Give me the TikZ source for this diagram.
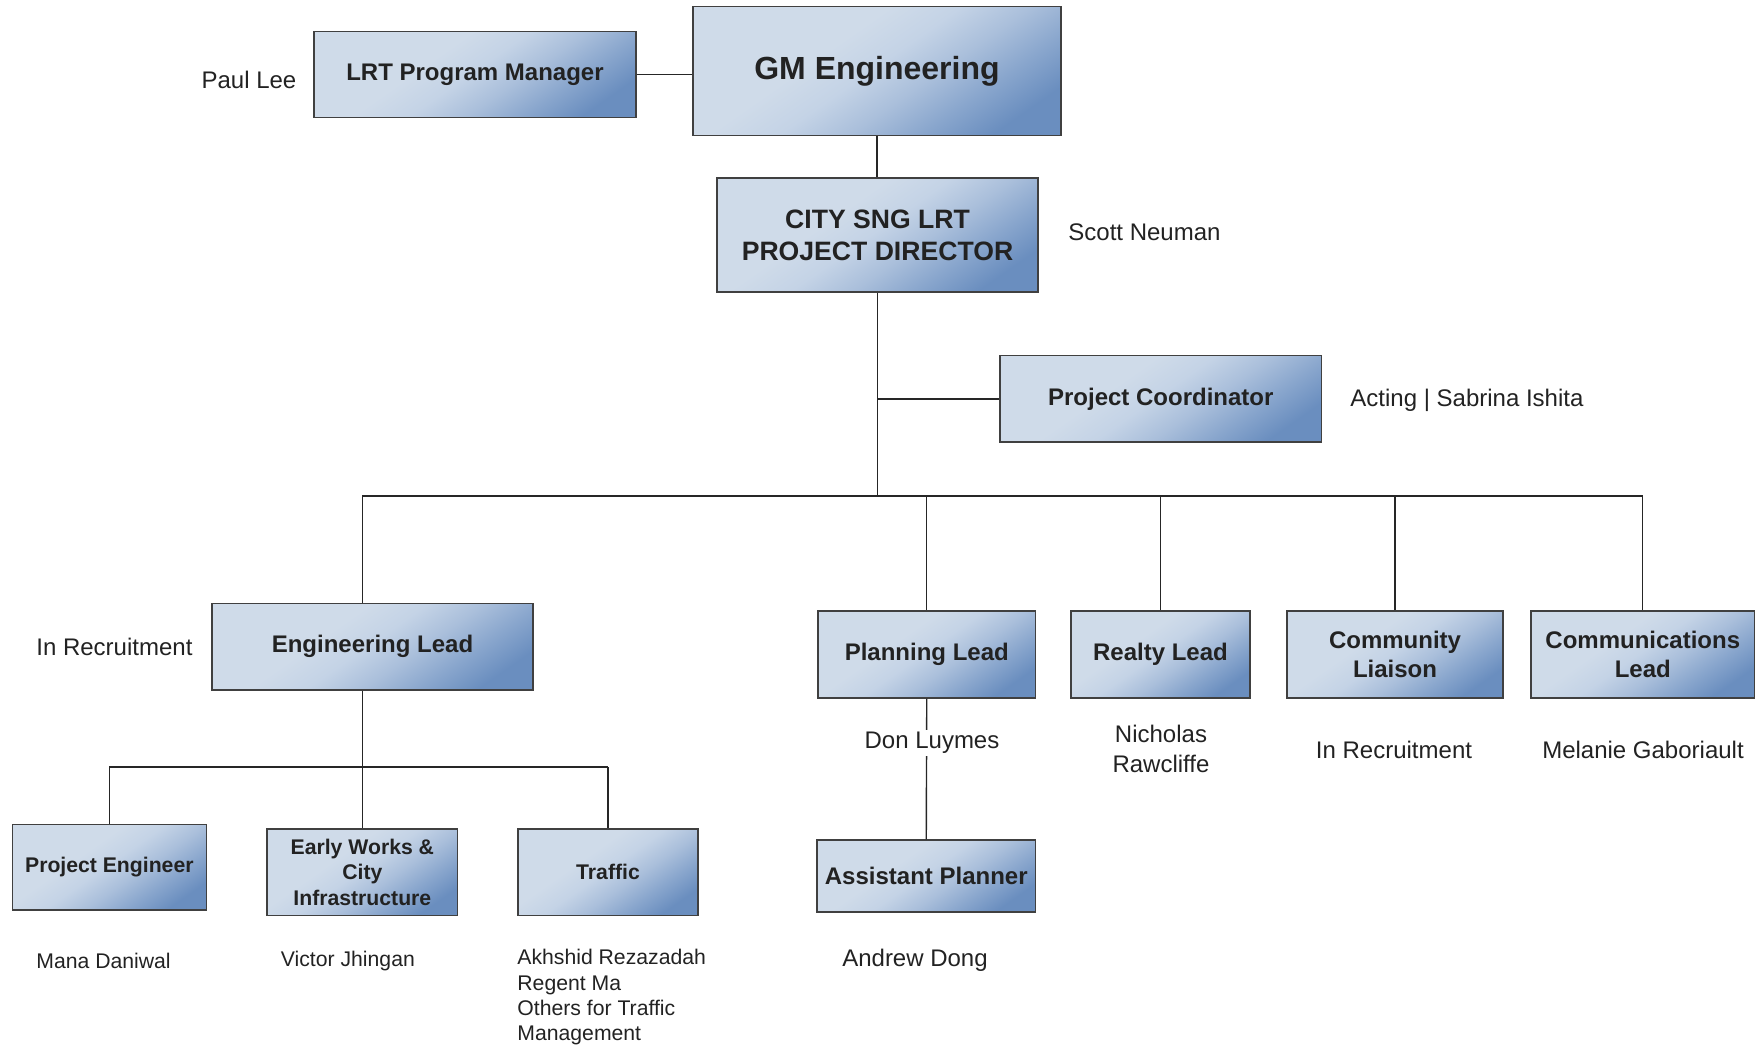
\documentclass[tikz,border=0pt]{standalone}
\usepackage{fontspec}
\setmainfont{Liberation Sans}
\definecolor{boxlight}{HTML}{CFDBE9}
\definecolor{boxpale}{HTML}{C4D3E6}
\definecolor{boxmid}{HTML}{AABFDB}
\definecolor{boxdeep}{HTML}{89A6CD}
\definecolor{boxdark}{HTML}{6A8EBF}
\definecolor{inkgrey}{HTML}{222222}
\pgfdeclareverticalshading{orgshade}{100bp}{color(0bp)=(boxdark); color(24bp)=(boxdark); color(33bp)=(boxdeep); color(42bp)=(boxmid); color(51bp)=(boxpale); color(60bp)=(boxlight); color(100bp)=(boxlight)}
\begin{document}
\begin{tikzpicture}[
    x=0.5pt, y=-0.5pt,
    % Box and text styles
    orgbox/.style={draw=black!75, line width=0.6pt, shading=orgshade, shading angle=35,
        text=inkgrey, align=center, inner sep=0pt, font=\bfseries\fontsize{12}{14.4}\selectfont},
    smallbox/.style={orgbox, font=\bfseries\fontsize{10.6}{12.7}\selectfont},
    person/.style={text=inkgrey, align=center, inner sep=1pt, font=\fontsize{12}{14.6}\selectfont},
    smallperson/.style={person, align=left, font=\fontsize{10.6}{12.7}\selectfont},
    link/.style={draw=black!85, line width=0.7pt}
]
\useasboundingbox (0,0) rectangle (1759,1045);

% 1. Top boxes
\node[orgbox, minimum width=161pt, minimum height=43.2pt] (lrt) at (475,74.6) {LRT Program Manager};
\node[orgbox, minimum width=184pt, minimum height=64.5pt, font=\bfseries\fontsize{16}{19}\selectfont] (gm) at (877,71.2) {GM Engineering};
\node[orgbox, minimum width=160.5pt, minimum height=57pt, font=\bfseries\fontsize{13.3}{16}\selectfont] (dir) at (877.5,235) {CITY SNG LRT\\PROJECT DIRECTOR};
\node[orgbox, minimum width=160.75pt, minimum height=43.2pt] (coord) at (1160.75,398.8) {Project Coordinator};

% 2. Lead boxes
\node[orgbox, minimum width=160.5pt, minimum height=43.2pt] (englead) at (372.5,646.75) {Engineering Lead};
\node[orgbox, minimum width=108.75pt, minimum height=43.5pt] (plan) at (926.75,654.5) {Planning Lead};
\node[orgbox, minimum width=89.5pt, minimum height=43.5pt] (realty) at (1160.5,654.5) {Realty Lead};
\node[orgbox, minimum width=108pt, minimum height=43.5pt] (comm) at (1395,654.5) {Community\\Liaison};
\node[orgbox, minimum width=111.75pt, minimum height=43.5pt] (comms) at (1642.75,654.5) {Communications\\Lead};

% 3. Bottom boxes
\node[smallbox, minimum width=97pt, minimum height=42.75pt] (pe) at (109.35,867.25) {Project Engineer};
\node[smallbox, minimum width=95.35pt, minimum height=43.2pt] (early) at (362.35,872.2) {Early Works \&\\City\\Infrastructure};
\node[smallbox, minimum width=90pt, minimum height=43.2pt] (traffic) at (608,872.2) {Traffic};
\node[orgbox, minimum width=109.25pt, minimum height=36pt] (asst) at (926.25,876) {Assistant Planner};

% 4. Connectors
\coordinate (bus) at (876,496);
\coordinate (subbus) at (362,767);
\draw[link] (lrt.east) -- (lrt.east -| gm.west);
\draw[link] (gm.south) -- (gm.south |- dir.north);
\draw[link] (dir.south) -- (dir.south |- bus);
\draw[link] (dir.south |- coord.west) -- (coord.west);
\draw[link] (early.north |- bus) -- (comms.north |- bus);
\draw[link] (early.north |- bus) -- (early.north |- englead.north);
\draw[link] (plan.north |- bus) -- (plan.north);
\draw[link] (realty.north |- bus) -- (realty.north);
\draw[link] (comm.north |- bus) -- (comm.north);
\draw[link] (comms.north |- bus) -- (comms.north);
\draw[link] (early.north |- englead.south) -- (early.north);
\draw[link] (pe.north |- subbus) -- (traffic.north |- subbus);
\draw[link] (pe.north |- subbus) -- (pe.north);
\draw[link] (traffic.north |- subbus) -- (traffic.north);
\draw[link] (plan.south) -- (asst.north);

% 5. Names
\node[person] (paul) at (249,80) {Paul Lee};
\node[person, anchor=west] (scott) at (1066,232) {Scott Neuman};
\node[person, anchor=west] (sabrina) at (1348,400) {Acting | Sabrina Ishita};
\node[person, anchor=west] (recruit1) at (34,647) {In Recruitment};
\node[person, fill=white] (don) at (932,743) {Don Luymes};
\node[person] (nicholas) at (1161,749) {Nicholas\\Rawcliffe};
\node[person] (recruit2) at (1394,750) {In Recruitment};
\node[person] (melanie) at (1643,750) {Melanie Gaboriault};
\node[person] (andrew) at (915,960) {Andrew Dong};
\node[smallperson, anchor=west] (mana) at (34,961) {Mana Daniwal};
\node[smallperson, anchor=west] (victor) at (278.5,961) {Victor Jhingan};
\node[smallperson, anchor=north west] (traffname) at (515,947) {Akhshid Rezazadah\\Regent Ma\\Others for Traffic\\Management};

\end{tikzpicture}
\end{document}
